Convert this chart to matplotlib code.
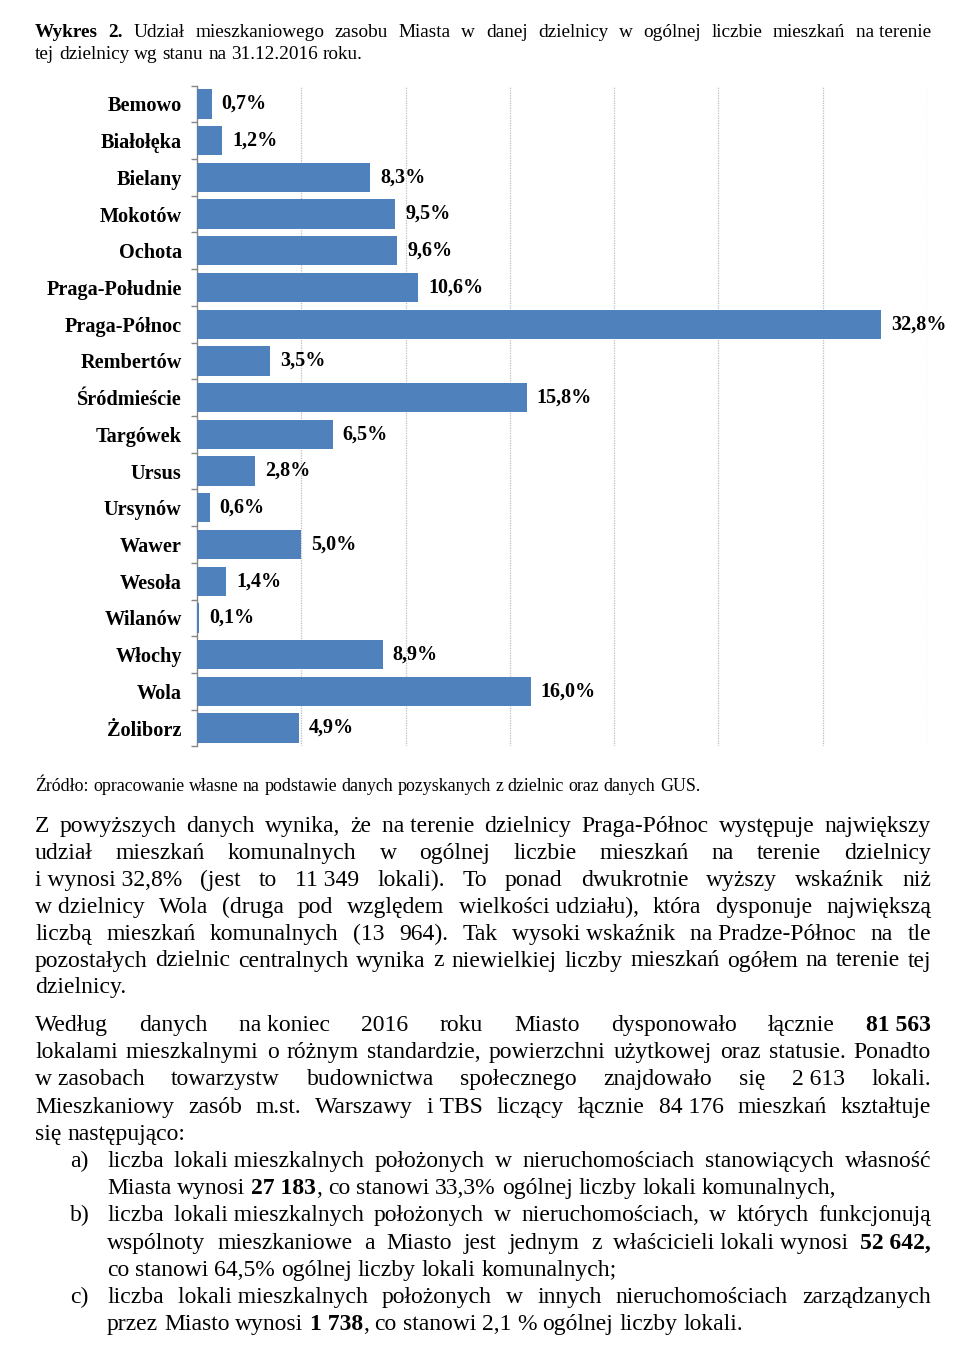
import matplotlib
matplotlib.use("Agg")
import matplotlib.pyplot as plt
from matplotlib.ticker import FixedLocator

# ---------------- data ----------------
districts = ["Bemowo", "Białołęka", "Bielany", "Mokotów", "Ochota", "Praga-Południe",
             "Praga-Północ", "Rembertów", "Śródmieście", "Targówek", "Ursus", "Ursynów",
             "Wawer", "Wesoła", "Wilanów", "Włochy", "Wola", "Żoliborz"]
shares = [0.7, 1.2, 8.3, 9.5, 9.6, 10.6, 32.8, 3.5, 15.8, 6.5, 2.8, 0.6,
          5.0, 1.4, 0.1, 8.9, 16.0, 4.9]
value_labels = [f"{v:.1f}%".replace(".", ",") for v in shares]
grid_ticks = [5, 10, 15, 20, 25, 30, 35]

title_lines = [
    ("*Wykres 2.* Udział mieszkaniowego zasobu Miasta w danej dzielnicy w ogólnej liczbie mieszkań na~terenie", True),
    ("tej dzielnicy wg stanu na 31.12.2016 roku.", False),
]
source_line = "Źródło: opracowanie własne na podstawie danych pozyskanych z dzielnic oraz danych GUS."

para1 = [
    ("Z powyższych danych wynika, że na~terenie dzielnicy Praga-Północ występuje największy", True),
    ("udział mieszkań komunalnych w ogólnej liczbie mieszkań na terenie dzielnicy", True),
    ("i~wynosi~32,8% (jest to 11~349 lokali). To ponad dwukrotnie wyższy wskaźnik niż", True),
    ("w~dzielnicy Wola (druga pod względem wielkości~udziału), która dysponuje największą", True),
    ("liczbą mieszkań komunalnych (13 964). Tak wysoki~wskaźnik na~Pradze-Północ na tle", True),
    ("pozostałych dzielnic centralnych wynika z niewielkiej liczby mieszkań ogółem na terenie tej", True),
    ("dzielnicy.", False),
]
para2 = [
    ("Według danych na~koniec 2016 roku Miasto dysponowało łącznie *81~563*", True),
    ("lokalami mieszkalnymi o różnym standardzie, powierzchni użytkowej oraz statusie. Ponadto", True),
    ("w~zasobach towarzystw budownictwa społecznego znajdowało się 2~613 lokali.", True),
    ("Mieszkaniowy zasób m.st. Warszawy i~TBS liczący łącznie 84~176 mieszkań kształtuje", True),
    ("się następująco:", False),
]
list_items = [
    ("a)", [("liczba lokali~mieszkalnych położonych w nieruchomościach stanowiących własność", True),
            ("Miasta wynosi *27~183*, co stanowi 33,3% ogólnej liczby lokali komunalnych,", False)]),
    ("b)", [("liczba lokali~mieszkalnych położonych w nieruchomościach, w których funkcjonują", True),
            ("wspólnoty mieszkaniowe a Miasto jest jednym z właścicieli~lokali~wynosi *52~642,*", True),
            ("co stanowi 64,5% ogólnej liczby lokali komunalnych;", False)]),
    ("c)", [("liczba lokali~mieszkalnych położonych w innych nieruchomościach zarządzanych", True),
            ("przez Miasto wynosi *1~738*, co stanowi 2,1 % ogólnej liczby lokali.", False)]),
]

# ---------------- figure ----------------
W, H = 964, 1358
SERIF = "Liberation Serif"
fig = plt.figure(figsize=(W / 100, H / 100), dpi=100)
fig.patch.set_facecolor("white")

ax_top, ax_bot, ax_left, ax_right = 85.6, 746.4, 197, 927
ax = fig.add_axes([ax_left / W, 1 - ax_bot / H, (ax_right - ax_left) / W, (ax_bot - ax_top) / H])
ypos = list(range(len(districts)))
ax.barh(ypos, shares, height=0.8, color="#4F81BD", edgecolor="none", zorder=3)
ax.set_xlim(0, 35)
ax.set_ylim(len(districts) - 0.5, -0.5)

ax.set_xticks(grid_ticks)
ax.tick_params(axis="x", length=0, labelbottom=False)
ax.xaxis.grid(True, color="#BDBDBD", linestyle=(0, (1, 1)), linewidth=0.9, zorder=0)
ax.yaxis.grid(False)
for s in ("top", "right", "bottom"):
    ax.spines[s].set_visible(False)
ax.spines["left"].set_color("#868686")
ax.spines["left"].set_linewidth(1.0)

ax.set_yticks(ypos)
ax.set_yticklabels(districts, fontfamily=SERIF, fontweight="bold", fontsize=14.6)
ax.tick_params(axis="y", which="major", length=0, pad=11.0)
ax.yaxis.set_minor_locator(FixedLocator([i - 0.5 for i in range(len(districts) + 1)]))
ax.tick_params(axis="y", which="minor", length=4, width=1, color="#868686", direction="out")

for yi, v, lab in zip(ypos, shares, value_labels):
    ax.annotate(lab, (v, yi), xytext=(7.2, 0), textcoords="offset points",
                ha="left", va="center", fontfamily=SERIF, fontweight="bold", fontsize=14.5)

# ---------------- justified text helper ----------------
renderer = fig.canvas.get_renderer()
_cache = {}


def measure(s, size, bold):
    key = (s, size, bold)
    if key not in _cache:
        t = fig.text(0, 0, s, fontsize=size, fontweight="bold" if bold else "normal", fontfamily=SERIF)
        _cache[key] = t.get_window_extent(renderer).width
        t.remove()
    return _cache[key]


def parse(line, bold_state):
    tokens = []
    for word in line.split(" "):
        runs, buf = [], ""
        for ch in word:
            if ch == "*":
                if buf:
                    runs.append((buf, bold_state))
                buf = ""
                bold_state = not bold_state
            else:
                buf += "\u00a0" if ch == "~" else ch
        if buf:
            runs.append((buf, bold_state))
        tokens.append(runs)
    return tokens


def draw_line(line, x0, x1, yb, size, justify):
    toks = parse(line, False)
    widths = [[measure(r, size, b) for r, b in tok] for tok in toks]
    tot = sum(sum(w) for w in widths)
    space = measure("a a", size, False) - measure("aa", size, False)
    n = len(toks)
    gap = (x1 - x0 - tot) / (n - 1) if (justify and n > 1) else space
    x = x0
    for tok, ws in zip(toks, widths):
        for (r, b), w in zip(tok, ws):
            fig.text(x / W, 1 - yb / H, r, fontsize=size, fontweight="bold" if b else "normal",
                     fontfamily=SERIF, ha="left", va="baseline", color="black")
            x += w
        x += gap


LEFT, RIGHT = 35, 931
# title
for i, (ln, j) in enumerate(title_lines):
    draw_line(ln, LEFT, RIGHT, 37 + 22 * i, 13.9, j)
# source
draw_line(source_line, LEFT, RIGHT, 791, 12.9, False)
# paragraph 1
BODY = 17.0
for i, (ln, j) in enumerate(para1):
    draw_line(ln, LEFT, RIGHT, 832 + 26.9 * i, BODY, j)
# paragraph 2 + list
k = 0
for ln, j in para2:
    draw_line(ln, LEFT, RIGHT, 1031 + 27.2 * k, BODY, j)
    k += 1
for lab, lines in list_items:
    fig.text(70 / W, 1 - (1031 + 27.2 * k) / H, lab, fontsize=BODY, fontfamily=SERIF,
             ha="left", va="baseline")
    for ln, j in lines:
        draw_line(ln, 107, RIGHT, 1031 + 27.2 * k, BODY, j)
        k += 1

fig.savefig("out.png", dpi=100, facecolor="white")
